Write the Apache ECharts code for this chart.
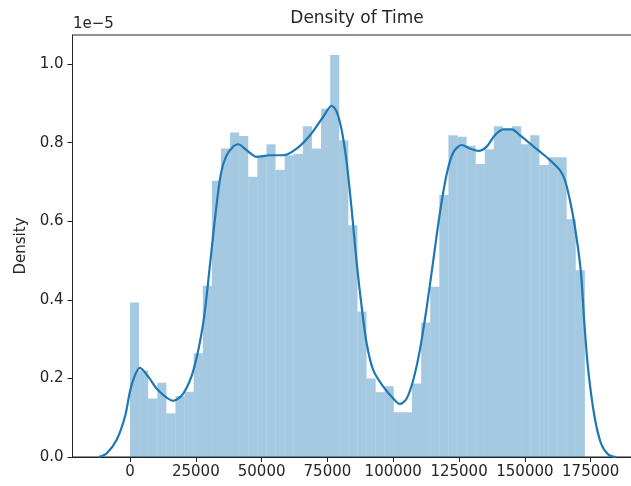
<!DOCTYPE html>
<html><head><meta charset="utf-8">
<script src="https://cdn.jsdelivr.net/npm/echarts@6/dist/echarts.min.js"></script>
<style>html,body{margin:0;padding:0;background:#fff}#c{width:631px;height:486px}</style>
</head><body><div id="c"></div>
<script>
// Histogram of Time: 50 equal bins between min and max of the data
const timeMin = 0;
const timeMax = 172792;
const binCount = 50;
// bar heights, in units of 1e-5 (density)
const histDensity = [
  0.393, 0.220, 0.149, 0.189, 0.111, 0.155, 0.166, 0.264, 0.436, 0.703,
  0.785, 0.826, 0.817, 0.713, 0.765, 0.796, 0.731, 0.768, 0.772, 0.842,
  0.785, 0.886, 1.023, 0.806, 0.590, 0.370, 0.200, 0.165, 0.180, 0.114,
  0.114, 0.187, 0.342, 0.433, 0.667, 0.819, 0.815, 0.792, 0.746, 0.783,
  0.842, 0.835, 0.842, 0.796, 0.819, 0.743, 0.763, 0.763, 0.605, 0.475
];
// KDE curve samples
const kdeTime = [
  -12000, -8900, -5100, -1900, 600, 3800, 7000, 10700, 16500, 20300,
  24100, 27800, 30400, 32500, 34500, 36500, 39200, 41100, 44300, 48100,
  53200, 58200, 63300, 68400, 73400, 76600, 78500, 80400, 82300, 84200,
  86100, 88000, 89900, 92400, 96200, 100000, 102500, 105100, 107600, 110100,
  112700, 115200, 117700, 120300, 122800, 126000, 129100, 132300, 135500, 138600,
  141800, 145000, 148100, 151900, 155700, 159500, 163300, 165200, 167100, 169000,
  171200, 172600, 174000, 176400, 178900, 181700, 184600
];
const kdeDensity = [
  0.000, 0.009, 0.043, 0.103, 0.183, 0.227, 0.204, 0.170, 0.143, 0.162,
  0.221, 0.340, 0.490, 0.620, 0.720, 0.765, 0.790, 0.796, 0.781, 0.764,
  0.768, 0.768, 0.785, 0.819, 0.866, 0.894, 0.879, 0.832, 0.750, 0.630,
  0.495, 0.382, 0.289, 0.221, 0.179, 0.149, 0.135, 0.149, 0.196, 0.272,
  0.380, 0.500, 0.620, 0.720, 0.775, 0.794, 0.785, 0.779, 0.790, 0.819,
  0.834, 0.834, 0.819, 0.798, 0.777, 0.756, 0.730, 0.705, 0.654, 0.586,
  0.476, 0.340, 0.225, 0.105, 0.035, 0.006, 0.000
];
const xTicks = [0, 25000, 50000, 75000, 100000, 125000, 150000, 175000];
const yTicks = [0, 0.2, 0.4, 0.6, 0.8, 1.0];

const binWidth = (timeMax - timeMin) / binCount;
const barData = histDensity.map((h, i) => [timeMin + i * binWidth, timeMin + (i + 1) * binWidth, h]);
const lineData = kdeTime.map((t, i) => [t, kdeDensity[i]]);

const txt = '#262626';
const axisCol = '#222';
const font = 'DejaVu Sans';

const chart = echarts.init(document.getElementById('c'), null, {renderer: 'canvas'});
chart.setOption({
  animation: false,
  backgroundColor: '#fff',
  grid: {left: 72.5, right: -11.4, top: 35, bottom: 29, outerBoundsMode: 'none', containLabel: false,
         show: true, borderColor: axisCol, borderWidth: 1, backgroundColor: 'transparent'},
  graphic: [
    {type: 'text', x: 357, y: 19, style: {text: 'Density of Time', font: '17px "DejaVu Sans"', fill: txt, textAlign: 'center', textVerticalAlign: 'middle'}},
    {type: 'text', x: 73, y: 24, style: {text: '1e\u22125', font: '15px "DejaVu Sans"', fill: txt, textAlign: 'left', textVerticalAlign: 'middle'}}
  ],
  xAxis: {
    type: 'value', min: -21840, max: 194640,
    splitLine: {show: false},
    axisLine: {show: true, onZero: false, lineStyle: {color: axisCol, width: 1}},
    axisTick: {show: true, customValues: xTicks, length: 5, lineStyle: {color: axisCol, width: 1}},
    axisLabel: {customValues: xTicks, fontSize: 15, color: txt, fontFamily: font, margin: 8, formatter: v => String(v)}
  },
  yAxis: {
    type: 'value', min: 0, max: 1.074,
    name: 'Density', nameLocation: 'middle', nameGap: 44, nameRotate: 90,
    nameTextStyle: {fontSize: 15, color: txt, fontFamily: font},
    splitLine: {show: false},
    axisLine: {show: true, onZero: false, lineStyle: {color: axisCol, width: 1}},
    axisTick: {show: true, customValues: yTicks, length: 5, lineStyle: {color: axisCol, width: 1}},
    axisLabel: {customValues: yTicks, fontSize: 15, color: txt, fontFamily: font, margin: 9, formatter: v => v.toFixed(1)}
  },
  series: [
    {
      type: 'custom', name: 'hist', data: barData,
      encode: {x: [0, 1], y: 2},
      renderItem: function (params, api) {
        const p0 = api.coord([api.value(0), 0]);
        const p1 = api.coord([api.value(1), api.value(2)]);
        return {type: 'rect', shape: {x: p0[0], y: p1[1], width: p1[0] - p0[0], height: p0[1] - p1[1]},
                style: {fill: 'rgba(31,119,180,0.4)'}};
      },
      z: 1
    },
    {
      type: 'line', name: 'kde', data: lineData, smooth: 0.3, showSymbol: false,
      lineStyle: {color: '#1f77b4', width: 2.2}, z: 3
    }
  ]
});
</script></body></html>
